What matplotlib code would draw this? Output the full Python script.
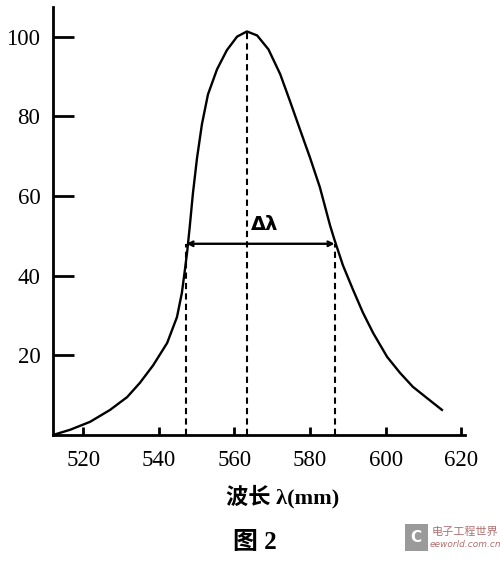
import numpy as np
import matplotlib.pyplot as plt

plt.rcParams['font.family'] = ['Liberation Serif', 'Noto Sans CJK SC']

# curve (wavelength, relative value)
wave = [512, 516.5, 521.8, 527.1, 531.6, 535.0, 538.5, 542.2, 544.8, 546.1,
        546.9, 547.5, 548.2, 549.0, 550.1, 551.4, 553.0, 555.4, 558.0, 560.7,
        563.3, 566.0, 569.0, 572.1, 574.7, 577.3, 580.0, 582.6, 585.3, 586.4,
        588.7, 591.4, 594.0, 596.7, 600.4, 603.8, 607.2, 610.9, 614.9]
value = [0, 1.3, 3.3, 6.3, 9.5, 13.1, 17.5, 23.1, 29.6, 35.7,
         41.5, 46.0, 52.5, 60.5, 69.5, 78.0, 85.5, 91.8, 96.6, 100.0,
         101.3, 100.3, 96.8, 90.6, 83.8, 76.8, 69.6, 62.2, 52.6, 49.2,
         42.6, 36.4, 30.7, 25.6, 19.6, 15.6, 12.1, 9.3, 6.3]

peak_x = 563.3
peak_y = 101.3
half_left = 547.3
half_right = 586.5
half_y = 48

xticks = [520, 540, 560, 580, 600, 620]
yticks = [20, 40, 60, 80, 100]

fig = plt.figure(figsize=(5, 5.62), dpi=100)
ax = fig.add_axes([0.106, 0.226, 0.824, 0.762])

ax.plot(wave, value, color='black', lw=1.7, solid_joinstyle='round')

# dashed guides
dash = (0, (3, 2))
ax.plot([half_left, half_left], [0, half_y], color='black', lw=1.5, ls=dash)
ax.plot([half_right, half_right], [0, half_y], color='black', lw=1.5, ls=dash)
ax.plot([peak_x, peak_x], [0, peak_y], color='black', lw=1.5, ls=dash)

# width arrow
ax.annotate('', xy=(half_left, half_y), xytext=(half_right, half_y),
            arrowprops=dict(arrowstyle='<->', color='black', lw=1.7,
                            mutation_scale=8, shrinkA=0, shrinkB=0))
ax.text(568, 50.5, 'Δλ', fontsize=14, fontweight='bold', ha='center',
        va='bottom', family=['DejaVu Sans'])

ax.set_xlim(512, 621)
ax.set_ylim(0, 107.5)
ax.set_xticks(xticks)
ax.set_yticks(yticks)
for s in ['top', 'right']:
    ax.spines[s].set_visible(False)
for s in ['left', 'bottom']:
    ax.spines[s].set_linewidth(2)
ax.tick_params(axis='y', direction='in', length=15, width=2, pad=9, labelsize=16.5)
ax.tick_params(axis='x', direction='in', length=6, width=2, pad=11, labelsize=16.5)

fig.text(0.566, 0.116, '波长 λ(mm)', ha='center', va='center', fontsize=16,
         fontweight='bold')
fig.text(0.51, 0.034, '图 2', ha='center', va='center', fontsize=18,
         fontweight='bold')

# watermark
fig.patches.append(plt.Rectangle((0.81, 0.02), 0.045, 0.048, transform=fig.transFigure,
                                 facecolor='#9a9a9a', edgecolor='none'))
fig.text(0.832, 0.044, 'C', ha='center', va='center', fontsize=11, color='white',
         fontweight='bold', family=['DejaVu Sans'])
fig.text(0.93, 0.053, '电子工程世界', ha='center', va='center', fontsize=8,
         color='#b07070', family=['Noto Sans CJK SC'])
fig.text(0.93, 0.031, 'eeworld.com.cn', ha='center', va='center', fontsize=6.5,
         color='#b07070', style='italic', family=['DejaVu Sans'])

fig.savefig('out.png', dpi=100)
